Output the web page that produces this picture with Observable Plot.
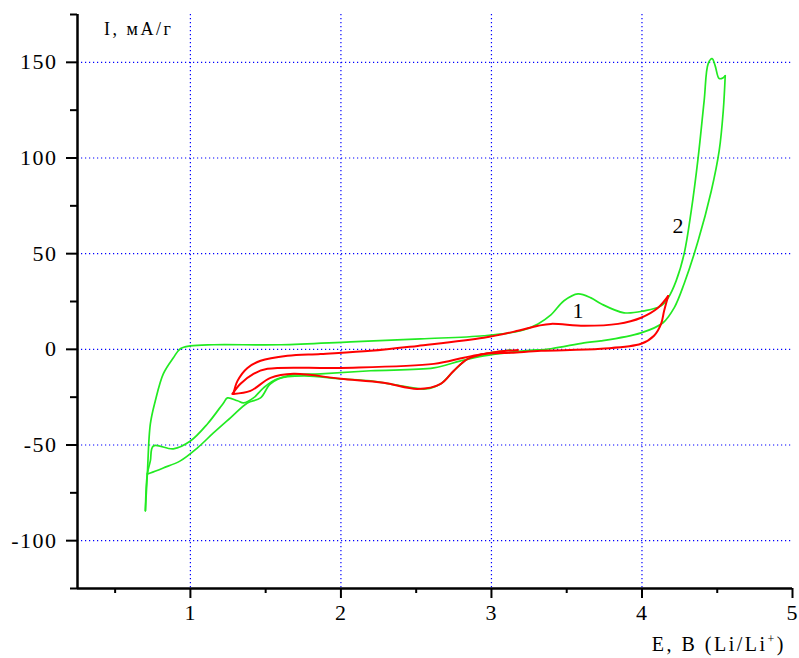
<!DOCTYPE html>
<html><head><meta charset="utf-8">
<script src="https://cdn.jsdelivr.net/npm/d3@7"></script>
<script src="https://cdn.jsdelivr.net/npm/@observablehq/plot@0.6"></script>
<style>
body{margin:0;background:#fff}
</style>
</head><body><div id="chart"></div>
<script>
// Curve 2 (green): potential E (V) and current I (mA/g)
const greenE = [3.129,2.996,2.843,2.750,2.663,2.564,2.397,2.198,1.998,1.752,1.579,1.486,1.419,1.353,1.313,1.246,1.220,1.113,1.000,0.887,0.754,0.734,0.714,0.701,
  0.714,0.734,0.767,0.820,0.887,0.933,1.000,1.153,1.599,2.065,2.530,2.949,3.196,3.309,3.395,3.482,3.575,3.661,3.728,3.881,4.014,4.127,4.174,4.227,4.280,4.327,4.373,4.413,4.440,4.466,4.486,4.513,4.540,4.553,
  4.540,4.513,4.460,4.373,4.280,4.214,4.140,3.994,3.728,3.615,3.395,3.216,2.949,2.796,2.617,2.198,1.865,1.645,1.532,1.466,1.379,1.266,1.153,1.047,0.933,0.820,0.734,0.714];
const greenI = [-0.3,-1.8,-5.0,-11.2,-18.0,-20.7,-19.1,-16.5,-15.4,-13.9,-15.4,-20.1,-25.4,-28.0,-26.9,-25.4,-28.0,-39.0,-47.9,-52.0,-50.5,-58.3,-65.1,-84.4,
  -65.1,-39.0,-26.9,-12.8,-4.4,0.3,1.8,2.4,2.4,3.9,5.5,7.1,9.7,13.3,18.0,25.4,29.0,26.9,23.8,19.1,20.1,22.7,26.9,35.8,49.9,72.2,100.1,129.9,149.3,151.9,148.3,141.5,142.0,143.0,
  124.7,103.8,82.6,56.7,34.3,21.7,13.9,8.6,4.4,3.4,0.3,-0.8,-3.4,-6.0,-9.7,-11.2,-12.8,-13.9,-18.0,-25.4,-28.0,-35.8,-43.7,-51.5,-58.3,-62.0,-64.6,-65.1];
const greenBreaks = [0,23,57,85]; // scan reversal points (indices)
// Curve 1 (red)
const redE = [3.176,2.996,2.843,2.750,2.663,2.510,2.284,1.998,1.685,1.532,1.399,1.286,
  1.313,1.379,1.466,1.645,1.865,2.198,2.510,2.949,3.176,3.309,3.395,3.615,3.841,3.994,4.107,4.174,
  4.147,4.127,4.080,3.994,3.728,3.329,3.129,2.949,2.816,2.617,1.998,1.512,1.419,1.333,1.279];
const redI = [-0.3,-1.8,-5.0,-11.2,-18.0,-20.7,-17.5,-15.4,-12.8,-14.9,-21.7,-23.3,
  -16.5,-9.7,-6.0,-3.4,-2.4,-0.8,1.8,6.0,9.7,12.3,13.3,12.3,13.3,16.5,21.7,27.9,
  20.1,13.3,7.1,2.9,0.3,-0.8,-1.8,-2.4,-4.4,-7.6,-9.7,-10.2,-12.8,-18.0,-23.3];
const redBreaks = [0,11,27,42];

const xMajor = [1,2,3,4,5];
const xMinor = [0.5,1.5,2.5,3.5,4.5];
const xGrid = [1,2,3,4];
const yMajor = [-100,-50,0,50,100,150];
const yMinor = [-125,-75,-25,25,75,125,175];
const curveLabels = ["1","2"];
const labelE = [3.575,4.24];
const labelI = [20,64.5];
const yTitle = "I, мA/г";
const xTitle = "E, B (Li/Li";
const xTitleSup = "+";
const xTitleEnd = ")";

function segments(E, I, breaks){
  const out = [];
  for (let s = 0; s < breaks.length - 1; s++)
    for (let i = breaks[s]; i <= breaks[s+1]; i++) out.push({E:E[i], I:I[i], seg:s});
  return out;
}
const green = segments(greenE, greenI, greenBreaks);
const red = segments(redE, redI, redBreaks);
const labels = curveLabels.map((t,i)=>({t,E:labelE[i],I:labelI[i]}));

const FONT = '"Liberation Serif","Times New Roman","DejaVu Serif",serif';
const dotted = {stroke:"#0000ff",strokeOpacity:1,strokeWidth:1.2,strokeDasharray:"1.2,2.8"};
const plot = Plot.plot({
  width:799, height:658,
  marginLeft:77, marginRight:7, marginTop:14, marginBottom:70,
  x:{domain:[0.25,5], label:null},
  y:{domain:[-125,175], label:null},
  style:{fontSize:"22px", background:"white", color:"black", overflow:"visible"},
  marks:[
    Plot.gridX(xGrid, dotted),
    Plot.gridY(yMajor, dotted),
    Plot.line(green,{x:"E",y:"I",z:"seg",stroke:"#22ea22",strokeWidth:1.7,curve:"catmull-rom"}),
    Plot.line(red,{x:"E",y:"I",z:"seg",stroke:"#ff0000",strokeWidth:2,curve:"catmull-rom"}),
    Plot.ruleX([0.25],{stroke:"black",strokeWidth:2.5}),
    Plot.ruleY([-125],{stroke:"black",strokeWidth:2.5}),
    Plot.axisX(xMajor,{tickSize:10,tickPadding:6,strokeWidth:2,tickFormat:d=>String(d),fontSize:22,label:null}),
    Plot.axisX(xMinor,{tickSize:5,strokeWidth:2,tickFormat:()=>"",label:null}),
    Plot.axisY(yMajor,{tickSize:11,tickPadding:9,strokeWidth:2,tickFormat:d=>String(d),fontSize:22,label:null}),
    Plot.axisY(yMinor,{tickSize:7,strokeWidth:2,tickFormat:()=>"",label:null}),
    Plot.text(labels,{x:"E",y:"I",text:"t",fontSize:22,fill:"black"})
  ]
});
document.getElementById("chart").appendChild(plot);

const svg = d3.select(plot);
svg.append("text").attr("x",104).attr("y",35).attr("text-anchor","start")
  .attr("font-size",18).attr("letter-spacing","2.5px").attr("fill","black")
  .text(yTitle);
const xt = svg.append("text").attr("x",786).attr("y",651).attr("text-anchor","end")
  .attr("font-size",20).attr("letter-spacing","2.5px").attr("fill","black");
xt.append("tspan").text(xTitle);
xt.append("tspan").attr("font-size",12).attr("dy",-8).text(xTitleSup);
xt.append("tspan").attr("dy",8).text(xTitleEnd);

svg.selectAll("text").attr("font-family", FONT).style("font-family", FONT);
svg.selectAll('g[aria-label="y-axis tick label"] text').style("letter-spacing","1.5px");
svg.selectAll('g[aria-label="x-axis tick label"] text').style("letter-spacing","1px");
</script>
</body></html>
